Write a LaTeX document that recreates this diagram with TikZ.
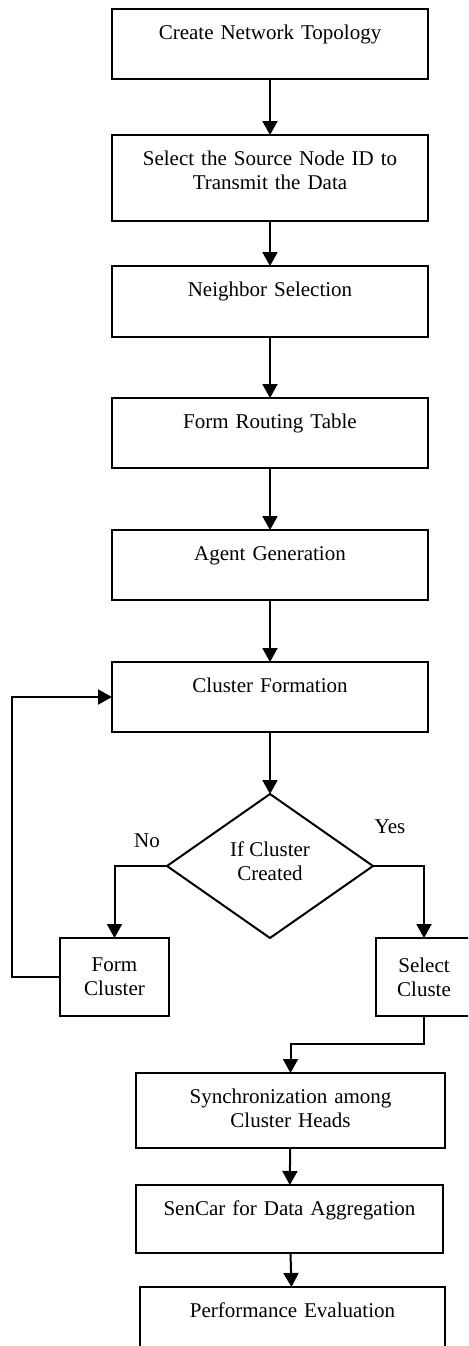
\documentclass[tikz,border=0pt]{standalone}
\usepackage{fontspec}
\setmainfont{Liberation Serif}
\usepackage{tikz}
\usetikzlibrary{arrows.meta,shapes.geometric,positioning}
\tikzstyle{arrow} = [line width=1pt,->,>={Triangle[width=7.5pt,length=7pt]},draw=black]
\tikzstyle{block} = [rectangle,draw,line width=1pt,outer sep=0pt,minimum width=158pt,text width=140pt,align=center,inner ysep=7.5pt,text height=7.5pt,text depth=12.5pt]
\tikzstyle{side} = [rectangle,draw,line width=1pt,outer sep=0pt,minimum width=54.5pt,minimum height=39pt,align=center,inner sep=2pt]
\tikzstyle{decision} = [diamond,draw,line width=1pt,outer sep=0pt,aspect=1.43,minimum width=103pt,minimum height=72pt,inner sep=0pt,align=center]

\begin{document}
\begin{tikzpicture}[
    font=\fontsize{10.5}{12}\selectfont
    ]
    \path[clip,use as bounding box] (0,0) rectangle (234pt,-673pt);
    % main column
    \node[block,anchor=north](s0) at (135pt,-4.5pt) {Create Network Topology};
    \node[block,text depth=20.5pt](s1) [below=28pt of s0] {Select the Source Node ID to\\Transmit the Data};
    \node[block,text depth=13pt](s2) [below=22.5pt of s1] {Neighbor Selection};
    \node[block](s3) [below=30.5pt of s2] {Form Routing Table};
    \node[block](s4) [below=31pt of s3] {Agent Generation};
    \node[block](s5) [below=31pt of s4] {Cluster Formation};
    \node[decision](s6) [below=31pt of s5] {If Cluster\\Created\\[-7pt]};
    % the two branches
    \node[side,anchor=north](s7) at ([xshift=-77.75pt]s6.south) {Form\\Cluster};
    \node[side,anchor=north,minimum width=48pt](s8) at ([xshift=77pt]s6.south) {Select\\Cluste};
    \node (no) at ([xshift=-10pt,yshift=12.5pt]s6.west) {No};
    \node (yes) at ([xshift=8.5pt,yshift=19.5pt]s6.east) {Yes};
    % lower column
    \node[block,minimum width=154.5pt,text depth=15pt](s9) [below=28.5pt of s8, xshift=-66.75pt] {Synchronization among\\Cluster Heads};
    \node[block,minimum width=153.5pt,text depth=11.5pt](s10) [below=18.5pt of s9, xshift=-0.5pt] {SenCar for Data Aggregation};
    \node[block,minimum width=152.5pt](s11) [below=17pt of s10, xshift=1.5pt] {Performance Evaluation};

    \path[arrow]
    (s0) edge (s1)
    (s1) edge (s2)
    (s2) edge (s3)
    (s3) edge (s4)
    (s4) edge (s5)
    (s5) edge (s6)
    (s9) edge (s10)
    (s10) edge (s11)
    ;
    \draw[arrow] (s6.west) -| (s7.north);
    \draw[arrow] (s6.east) -| (s8.north);
    \draw[arrow] (s7.west) -- ++(-24pt,0) |- (s5.west);
    \draw[arrow] (s8.south) -- ++(0,-14pt) -| (s9.north);
    \end{tikzpicture}
\end{document}
